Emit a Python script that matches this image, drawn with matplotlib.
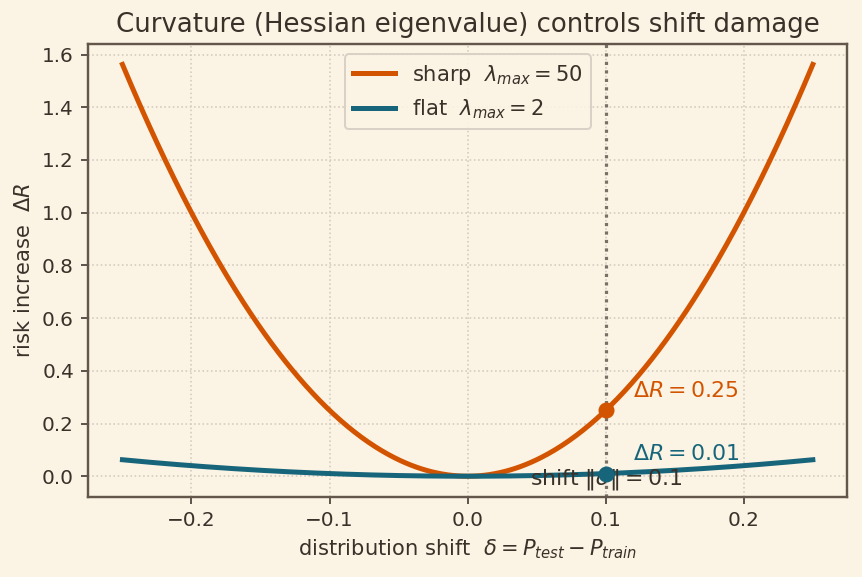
import numpy as np
import matplotlib.pyplot as plt

# ---------------------------------------------------------------------------
# data: quadratic risk increase  dR = 0.5 * lambda_max * delta^2
# ---------------------------------------------------------------------------
series_names = ['sharp', 'flat']
lambda_max = [50, 2]
series_colors = ['#d35400', '#17657a']
shift_range = [-0.25, 0.25]
shift_marked = 0.1

BG = '#fbf3e4'
INK = '#3a3129'

plt.rcParams.update({
    'font.family': 'DejaVu Sans',
    'text.color': INK,
    'axes.labelcolor': INK,
    'xtick.color': INK,
    'ytick.color': INK,
    'axes.edgecolor': '#62574a',
})

fig = plt.figure(figsize=(862 / 144, 577 / 144), dpi=144, facecolor=BG)
ax = fig.add_axes([0.102, 0.139, 0.881, 0.785], facecolor=BG)

delta = np.linspace(shift_range[0], shift_range[1], 400)
for name, lam, col in zip(series_names, lambda_max, series_colors):
    dR = 0.5 * lam * delta ** 2
    ax.plot(delta, dR, color=col, lw=2.5,
            label=rf'{name}  $\lambda_{{max}} = {lam}$')

ax.axvline(shift_marked, color='#7a7066', ls=':', lw=1.6)

for lam, col in zip(lambda_max, series_colors):
    r = 0.5 * lam * shift_marked ** 2
    ax.plot(shift_marked, r, 'o', color=col, ms=7, zorder=5)
    ax.text(shift_marked + 0.02, r + 0.05, rf'$\Delta R = {r:.2f}$',
            color=col, fontsize=11)

ax.text(shift_marked, -0.03, r'shift $\|\delta\| = 0.1$', ha='center',
        fontsize=11, color=INK)

ax.grid(True, ls=':', color='#d3cabd', lw=0.8)
for s in ax.spines.values():
    s.set_linewidth(1.2)
ax.tick_params(labelsize=10)

ax.set_xlabel(r'distribution shift  $\delta = P_{test} - P_{train}$', fontsize=10.5)
ax.set_ylabel(r'risk increase  $\Delta R$', fontsize=10.5)
ax.set_title('Curvature (Hessian eigenvalue) controls shift damage', fontsize=13)

leg = ax.legend(loc='upper center', fontsize=10.5, facecolor='#fbf3e4',
                edgecolor='#d6cec2', framealpha=0.9)

fig.savefig('out.png', dpi=144, facecolor=BG)
